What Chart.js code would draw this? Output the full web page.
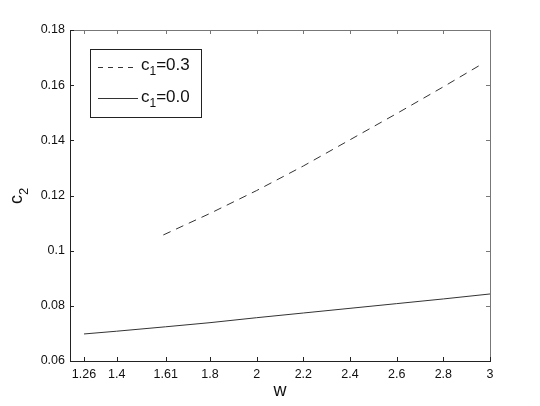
<!DOCTYPE html>
<html>
<head>
<meta charset="utf-8">
<script src="https://cdn.jsdelivr.net/npm/chart.js@4.4.1/dist/chart.umd.min.js"></script>
<style>
  html, body { margin: 0; padding: 0; background: #fff; }
  #wrap { width: 540px; height: 406px; }
</style>
</head>
<body>
<div id="wrap"><canvas id="chartCanvas" width="540" height="406"></canvas></div>
<script>
// tick positions
const wTicks = [1.26, 1.4, 1.61, 1.8, 2, 2.2, 2.4, 2.6, 2.8, 3];
const c2Ticks = [0.06, 0.08, 0.1, 0.12, 0.14, 0.16, 0.18];

// c1 = 0.0 (solid)
const wSolid = [1.26, 1.4, 1.61, 1.8, 2, 2.2, 2.4, 2.6, 2.8, 3];
const c2Solid = [0.0698, 0.0708, 0.0724, 0.0739, 0.0757, 0.0774, 0.0791, 0.0808, 0.0825, 0.0843];

// c1 = 0.3 (dashed)
const wDashed = [1.6, 1.8, 2, 2.2, 2.4, 2.6, 2.8, 2.97];
const c2Dashed = [0.1057, 0.1135, 0.1218, 0.1307, 0.1402, 0.1497, 0.1594, 0.1679];

const FONT = '"Liberation Sans", Arial, Helvetica, sans-serif';

function toPoints(xs, ys) {
    return xs.map((x, i) => ({ x: x, y: ys[i] }));
}

function fmt(v) {
    return String(+v.toFixed(2));
}

// text with a subscript, e.g. c_1=0.3
function drawSub(ctx, x, y, base, sub, rest, size) {
    ctx.font = size + 'px ' + FONT;
    ctx.fillText(base, x, y);
    let cx = x + ctx.measureText(base).width;
    ctx.font = Math.round(size * 0.72) + 'px ' + FONT;
    ctx.fillText(sub, cx, y + size * 0.32);
    cx += ctx.measureText(sub).width;
    if (rest) {
        ctx.font = size + 'px ' + FONT;
        ctx.fillText(rest, cx, y);
    }
}

// MATLAB-like box, inward ticks, legend and y label
const matlabPlugin = {
    id: 'matlabBox',
    afterDraw(chart) {
        const ctx = chart.ctx;
        const a = chart.chartArea;
        const xs = chart.scales.x;
        const ys = chart.scales.y;
        const tl = 4;
        ctx.save();
        ctx.lineWidth = 1;

        // top and right (lighter)
        ctx.strokeStyle = '#777';
        ctx.beginPath();
        ctx.moveTo(a.left, a.top + 0.5);
        ctx.lineTo(a.right + 0.5, a.top + 0.5);
        ctx.lineTo(a.right + 0.5, a.bottom);
        wTicks.forEach(v => {
            const px = Math.round(xs.getPixelForValue(v)) + 0.5;
            ctx.moveTo(px, a.top);
            ctx.lineTo(px, a.top + tl);
        });
        c2Ticks.forEach(v => {
            const py = Math.round(ys.getPixelForValue(v)) + 0.5;
            ctx.moveTo(a.right, py);
            ctx.lineTo(a.right - tl, py);
        });
        ctx.stroke();

        // left and bottom
        ctx.strokeStyle = '#222';
        ctx.beginPath();
        ctx.moveTo(a.left + 0.5, a.top);
        ctx.lineTo(a.left + 0.5, a.bottom + 0.5);
        ctx.lineTo(a.right + 1, a.bottom + 0.5);
        wTicks.forEach(v => {
            const px = Math.round(xs.getPixelForValue(v)) + 0.5;
            ctx.moveTo(px, a.bottom);
            ctx.lineTo(px, a.bottom - tl);
        });
        c2Ticks.forEach(v => {
            const py = Math.round(ys.getPixelForValue(v)) + 0.5;
            ctx.moveTo(a.left, py);
            ctx.lineTo(a.left + tl, py);
        });
        ctx.stroke();

        // legend
        const lx = 90.5, ly = 49.5, lw = 111, lh = 68;
        ctx.fillStyle = '#fff';
        ctx.fillRect(lx, ly, lw, lh);
        ctx.strokeStyle = '#222';
        ctx.strokeRect(lx, ly, lw, lh);

        ctx.strokeStyle = '#333';
        ctx.setLineDash([5, 5]);
        ctx.beginPath();
        ctx.moveTo(98, 67.5);
        ctx.lineTo(138, 67.5);
        ctx.stroke();
        ctx.setLineDash([]);
        ctx.beginPath();
        ctx.moveTo(98, 98.5);
        ctx.lineTo(138, 98.5);
        ctx.stroke();

        ctx.fillStyle = '#111';
        ctx.textBaseline = 'alphabetic';
        ctx.textAlign = 'left';
        drawSub(ctx, 141, 70, 'c', '1', '=0.3', 17);
        drawSub(ctx, 141, 102, 'c', '1', '=0.0', 17);

        // y axis label c_2 (rotated)
        ctx.translate(22, 204);
        ctx.rotate(-Math.PI / 2);
        drawSub(ctx, 0, 0, 'c', '2', '', 18);
        ctx.restore();
    }
};

const context = document.getElementById('chartCanvas').getContext('2d');

const chart = new Chart(context, {
    type: 'line',
    data: {
        datasets: [{
            label: 'c1=0.3',
            data: toPoints(wDashed, c2Dashed),
            borderColor: '#333',
            borderWidth: 1,
            borderDash: [8, 6],
            pointRadius: 0,
            fill: false,
            tension: 0
        }, {
            label: 'c1=0.0',
            data: toPoints(wSolid, c2Solid),
            borderColor: '#333',
            borderWidth: 1,
            pointRadius: 0,
            fill: false,
            tension: 0
        }]
    },
    options: {
        responsive: false,
        animation: false,
        events: [],
        layout: {
            padding: { left: 0, top: 30, right: 50, bottom: 0 }
        },
        scales: {
            x: {
                type: 'linear',
                min: 1.2,
                max: 3,
                grid: { display: false, drawTicks: false },
                border: { display: false },
                afterBuildTicks: function(scale) {
                    scale.ticks = wTicks.map(v => ({ value: v }));
                },
                afterFit: function(scale) {
                    scale.height = 45;
                },
                ticks: {
                    autoSkip: false,
                    maxRotation: 0,
                    padding: 6,
                    color: '#111',
                    font: { family: FONT, size: 12.5 },
                    callback: v => fmt(v)
                },
                title: {
                    display: true,
                    text: 'w',
                    color: '#111',
                    font: { family: FONT, size: 18 },
                    padding: { top: 0, bottom: 4 }
                }
            },
            y: {
                type: 'linear',
                min: 0.06,
                max: 0.18,
                grid: { display: false, drawTicks: false },
                border: { display: false },
                afterBuildTicks: function(scale) {
                    scale.ticks = c2Ticks.map(v => ({ value: v }));
                },
                afterFit: function(scale) {
                    scale.width = 70;
                },
                ticks: {
                    autoSkip: false,
                    padding: 5,
                    color: '#111',
                    font: { family: FONT, size: 12.5 },
                    callback: v => fmt(v)
                }
            }
        },
        plugins: {
            legend: { display: false },
            tooltip: { enabled: false }
        }
    },
    plugins: [matlabPlugin]
});
</script>
</body>
</html>
